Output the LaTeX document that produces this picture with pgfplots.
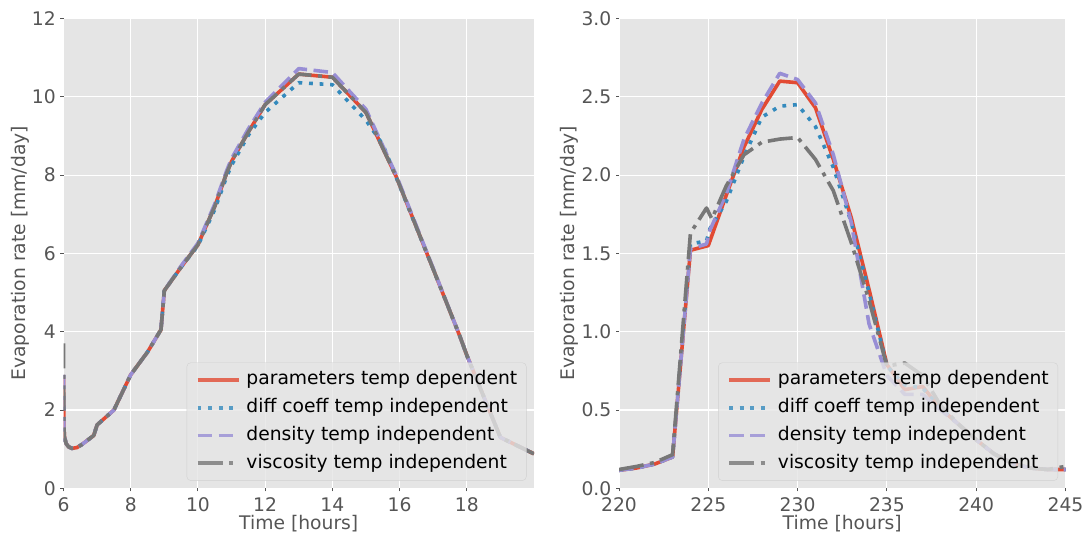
\documentclass[border=0pt]{standalone}
\usepackage{fontspec}
\setmainfont{DejaVu Sans}
\usepackage{pgfplots}
\pgfplotsset{compat=1.18}
\definecolor{ggbg}{HTML}{E5E5E5}
\definecolor{ggtext}{HTML}{555555}
\definecolor{ggred}{HTML}{E24A33}
\definecolor{ggblue}{HTML}{348ABD}
\definecolor{ggpurple}{HTML}{988ED5}
\definecolor{gggray}{HTML}{777777}
\definecolor{ggedge}{HTML}{CCCCCC}
\newcommand{\ggfont}{\fontsize{18.8}{22.5}\selectfont}
\pgfplotsset{
  legend image code/.code={\draw[#1] (0bp,0bp) -- (41bp,0bp);},
  ggstyle/.style={
    scale only axis,
    axis background/.style={fill=ggbg},
    axis line style={draw=none},
    grid=major,
    major grid style={white, line width=1.1bp},
    tick align=outside,
    major tick length=3bp,
    tick style={ggtext, line width=0.9bp},
    xtick pos=lower, ytick pos=left,
    ticklabel style={font=\ggfont, text=ggtext},
    xticklabel style={inner sep=0pt, anchor=north, yshift=-6bp},
    yticklabel style={inner sep=0pt, anchor=east, xshift=-4.5bp},
    label style={font=\ggfont, text=ggtext},
    xlabel style={at={(axis description cs:0.5,-0.075)}, anchor=center},
    /pgf/number format/assume math mode=true,
    legend cell align=left,
    legend style={at={(1,0)}, anchor=south east, xshift=-7.5bp, yshift=7.5bp,
      fill=ggbg, fill opacity=0.8, text opacity=1, draw=ggedge, draw opacity=0.8,
      rounded corners=4bp, inner xsep=9bp, inner ysep=8.3bp,
      font=\ggfont, text=black, row sep=9.5bp,
      column sep=6bp,
      nodes={inner sep=0pt, text height=14bp, text depth=4.2bp}},
  },
  sred/.style={ggred, line width=3.6bp, line join=round},
  sblue/.style={ggblue, line width=3.6bp, line join=round, dash pattern=on 3.8bp off 6.8bp},
  spurple/.style={ggpurple, line width=3.6bp, line join=round, dash pattern=on 14.5bp off 6.5bp},
  sgray/.style={gggray, line width=3.6bp, line join=round, dash pattern=on 25bp off 6.5bp on 4bp off 6.5bp},
}

\pgfplotstableread{
t v
6.000 2.90
6.010 1.60
6.030 1.30
6.080 1.14
6.150 1.06
6.250 1.02
6.400 1.04
6.550 1.12
6.900 1.35
7.000 1.62
7.500 2.00
8.000 2.90
8.500 3.48
8.900 4.05
9.000 5.05
9.500 5.65
10.000 6.22
10.500 7.20
10.850 8.04
11.000 8.35
11.500 9.10
12.000 9.80
13.000 10.58
14.000 10.50
15.000 9.60
15.900 7.96
17.000 5.60
17.800 3.87
18.000 3.40
19.000 1.30
20.000 0.88
}\Lred
\pgfplotstableread{
t v
6.000 2.90
6.010 1.60
6.030 1.30
6.080 1.14
6.150 1.06
6.250 1.02
6.400 1.04
6.550 1.12
6.900 1.35
7.000 1.62
7.500 2.00
8.000 2.90
8.500 3.48
8.900 4.05
9.000 5.05
9.500 5.65
10.000 6.20
10.500 7.12
10.850 7.95
11.000 8.25
11.500 9.02
12.000 9.60
13.000 10.36
14.000 10.31
15.000 9.40
15.500 8.78
15.900 7.94
17.000 5.60
17.800 3.87
18.000 3.40
19.000 1.30
20.000 0.88
}\Lblue
\pgfplotstableread{
t v
6.000 2.90
6.010 1.60
6.030 1.30
6.080 1.14
6.150 1.06
6.250 1.02
6.400 1.04
6.550 1.12
6.900 1.35
7.000 1.62
7.500 2.00
8.000 2.90
8.500 3.48
8.900 4.05
9.000 5.05
9.500 5.68
10.000 6.26
10.500 7.26
10.850 8.10
11.000 8.42
11.500 9.18
12.000 9.86
13.000 10.72
14.000 10.62
15.000 9.68
15.900 8.00
17.000 5.62
17.800 3.87
18.000 3.40
19.000 1.30
20.000 0.88
}\Lpurple
\pgfplotstableread{
t v
6.000 3.70
6.010 1.60
6.030 1.30
6.080 1.14
6.150 1.06
6.250 1.02
6.400 1.04
6.550 1.12
6.900 1.35
7.000 1.62
7.500 2.00
8.000 2.90
8.500 3.48
8.900 4.05
9.000 5.05
9.500 5.65
10.000 6.22
10.500 7.20
10.850 8.04
11.000 8.35
11.500 9.10
12.000 9.80
13.000 10.58
14.000 10.50
15.000 9.60
15.900 7.96
17.000 5.60
17.800 3.87
18.000 3.40
19.000 1.30
20.000 0.88
}\Lgray

\pgfplotstableread{
t v
220 0.115
221 0.13
222 0.155
223 0.20
224 1.52
225 1.55
226 1.87
227 2.18
228 2.42
229 2.60
230 2.59
231 2.43
232 2.10
233 1.73
234 1.27
235 0.79
236 0.63
237 0.65
238 0.51
239 0.41
240 0.31
241 0.22
242 0.16
243 0.13
244 0.12
245 0.12
}\Rred
\pgfplotstableread{
t v
220 0.115
221 0.13
222 0.155
223 0.20
224 1.56
224.9 1.58
225.1 1.66
226 1.83
227 2.12
228 2.37
229 2.44
230 2.45
231 2.31
232 2.05
233 1.70
234 1.25
235 0.78
236 0.66
237 0.64
238 0.51
239 0.41
240 0.31
241 0.22
242 0.16
243 0.13
244 0.12
245 0.12
}\Rblue
\pgfplotstableread{
t v
220 0.115
221 0.13
222 0.155
223 0.20
224 1.53
224.9 1.56
225.1 1.65
226 1.88
227 2.23
228 2.46
229 2.65
230 2.61
231 2.46
232 2.13
233 1.70
234 1.05
235 0.72
236 0.60
237 0.60
238 0.50
239 0.41
240 0.31
241 0.22
242 0.16
243 0.13
244 0.12
245 0.12
}\Rpurple
\pgfplotstableread{
t v
220 0.12
221 0.14
222 0.165
223 0.215
224 1.63
224.9 1.79
225.2 1.72
226 1.93
227 2.13
228 2.21
229 2.23
230 2.24
231 2.10
232 1.90
233 1.57
234 1.20
235 0.78
236 0.80
237 0.72
238 0.53
239 0.41
240 0.31
241 0.22
242 0.16
243 0.13
244 0.12
245 0.14
}\Rgray

\begin{document}
\begin{tikzpicture}
\begin{axis}[ggstyle, at={(63.5bp,47.7bp)}, anchor=south west,
  width=470.5bp, height=469.8bp,
  xmin=6, xmax=20, ymin=0, ymax=12,
  xtick={6,8,...,18}, ytick={0,2,...,12},
  xlabel={Time [hours]}, ylabel={Evaporation rate [mm/day]},
  ylabel style={at={(axis description cs:-0.0925,0.5)}, anchor=center},
]
\addplot[sred] table[x=t,y=v] {\Lred};
\addlegendentry{parameters temp dependent}
\addplot[sblue] table[x=t,y=v] {\Lblue};
\addlegendentry{diff coeff temp independent}
\addplot[spurple] table[x=t,y=v] {\Lpurple};
\addlegendentry{density temp independent}
\addplot[sgray] table[x=t,y=v] {\Lgray};
\addlegendentry{viscosity temp independent}
\end{axis}
\begin{axis}[ggstyle, at={(619bp,47.7bp)}, anchor=south west,
  width=446.5bp, height=469.8bp,
  xmin=220, xmax=245, ymin=0, ymax=3,
  xtick={220,225,...,245}, ytick={0,0.5,...,3},
  yticklabel style={/pgf/number format/.cd, fixed, fixed zerofill, precision=1},
  xlabel={Time [hours]}, ylabel={Evaporation rate [mm/day]},
  ylabel style={at={(axis description cs:-0.112,0.5)}, anchor=center},
]
\addplot[sred] table[x=t,y=v] {\Rred};
\addlegendentry{parameters temp dependent}
\addplot[sblue] table[x=t,y=v] {\Rblue};
\addlegendentry{diff coeff temp independent}
\addplot[spurple] table[x=t,y=v] {\Rpurple};
\addlegendentry{density temp independent}
\addplot[sgray] table[x=t,y=v] {\Rgray};
\addlegendentry{viscosity temp independent}
\end{axis}
\pgfresetboundingbox
\useasboundingbox (0,0) rectangle (1086bp,536bp);
\end{tikzpicture}
\end{document}
